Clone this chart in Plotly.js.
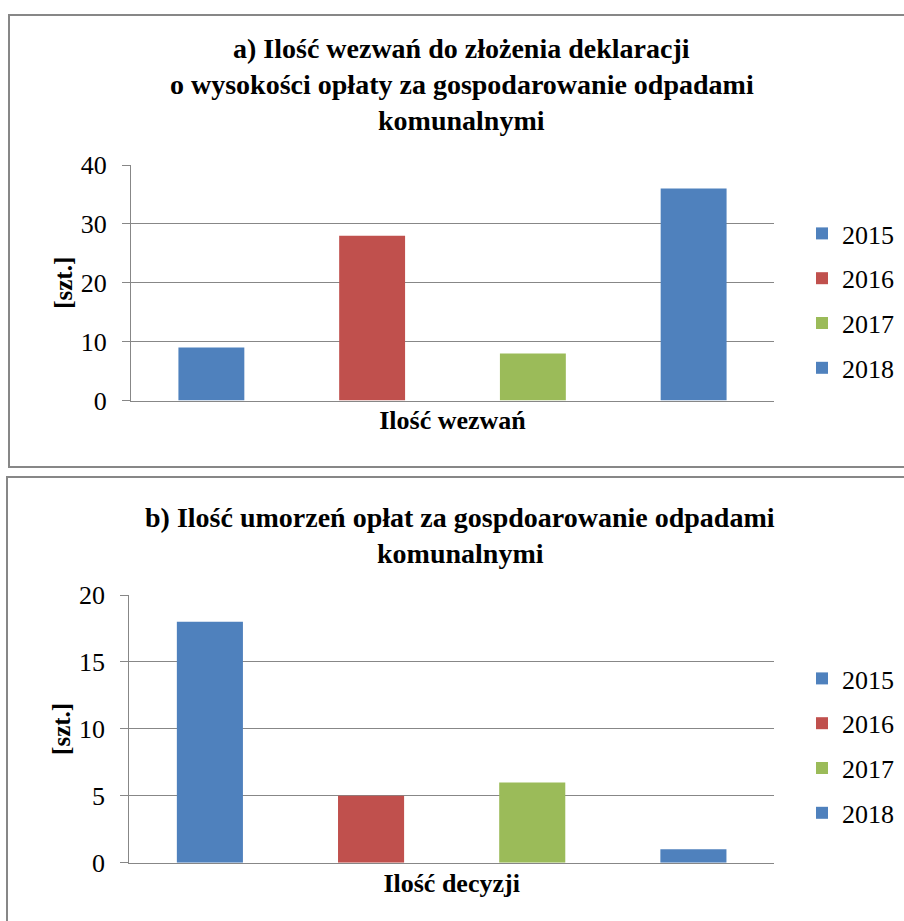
<!DOCTYPE html>
<html>
<head>
<meta charset="utf-8">
<script src="https://cdn.plot.ly/plotly-3.0.1.min.js"></script>
<style>html,body{margin:0;padding:0;background:#fff;}#chart{width:904px;height:921px;}</style>
</head>
<body>
<div id="chart"></div>
<script>
const years = ["2015", "2016", "2017", "2018"];
const colors = ["#4F81BD", "#C0504D", "#9BBB59", "#4F81BD"];
const catA = "Ilość wezwań";
const valuesA = [9, 28, 8, 36];
const catB = "Ilość decyzji";
const valuesB = [18, 5, 6, 1];
const titleA = ["a) Ilość wezwań do złożenia deklaracji", "o wysokości opłaty za gospodarowanie odpadami", "komunalnymi"];
const titleB = ["b) Ilość umorzeń opłat za gospdoarowanie odpadami", "komunalnymi"];
const yTicksA = [0, 10, 20, 30, 40];
const yTicksB = [0, 5, 10, 15, 20];

const FONT = "Liberation Serif";
const W = 904, H = 921;
const px = v => v / W;
const py = v => 1 - v / H;

const traces = [];
years.forEach((yr, i) => {
  traces.push({
    type: "bar", x: [catA], y: [valuesA[i]], name: yr,
    marker: {color: colors[i]}, xaxis: "x", yaxis: "y",
    legend: "legend", legendgroup: "a" + i, hoverinfo: "y"
  });
});
years.forEach((yr, i) => {
  traces.push({
    type: "bar", x: [catB], y: [valuesB[i]], name: yr,
    marker: {color: colors[i]}, xaxis: "x2", yaxis: "y2",
    legend: "legend2", legendgroup: "b" + i, hoverinfo: "y"
  });
});

const gridC = "#878787";
const yCommon = {
  showgrid: true, gridcolor: gridC, gridwidth: 1,
  showline: true, linecolor: gridC, linewidth: 1,
  ticks: "outside", ticklen: 8, tickcolor: gridC, tickwidth: 1,
  ticklabelstandoff: 10,
  tickfont: {family: FONT, size: 26, color: "#000"},
  zeroline: false, fixedrange: true
};
const xCommon = {
  showline: true, linecolor: gridC, linewidth: 1.5,
  showticklabels: false, ticks: "", showgrid: false, zeroline: false, fixedrange: true
};

const annotations = [];
const titleAy = [48, 84, 120];
titleA.forEach((t, i) => annotations.push({
  text: "<b>" + t + "</b>", xref: "paper", yref: "paper",
  x: px(462), y: py(titleAy[i]), xanchor: "center", yanchor: "middle",
  showarrow: false, font: {family: FONT, size: 28, color: "#000"}
}));
const titleBy = [517, 553];
titleB.forEach((t, i) => annotations.push({
  text: "<b>" + t + "</b>", xref: "paper", yref: "paper",
  x: px(460), y: py(titleBy[i]), xanchor: "center", yanchor: "middle",
  showarrow: false, font: {family: FONT, size: 28, color: "#000"}
}));

const legendCommon = {
  font: {family: FONT, size: 26, color: "#000"},
  traceorder: "grouped", tracegroupgap: 8,
  bgcolor: "rgba(0,0,0,0)", borderwidth: 0,
  xanchor: "left", yanchor: "top", itemclick: false, itemdoubleclick: false
};

const layout = {
  width: W, height: H,
  margin: {l: 0, r: 0, t: 0, b: 0},
  paper_bgcolor: "#fff", plot_bgcolor: "#fff",
  barmode: "group", bargap: 0, bargroupgap: 0.59,
  showlegend: true,
  font: {family: FONT, color: "#000"},
  xaxis: Object.assign({}, xCommon, {domain: [px(131), px(774)], anchor: "y",
    title: {text: "<b>" + catA + "</b>", standoff: 10, font: {family: FONT, size: 26, color: "#000"}}}),
  yaxis: Object.assign({}, yCommon, {domain: [py(400.5), py(165)], anchor: "x",
    range: [0, 40], tickvals: yTicksA,
    title: {text: "<b>[szt.]</b>", standoff: 1, font: {family: FONT, size: 25, color: "#000"}}}),
  xaxis2: Object.assign({}, xCommon, {domain: [px(129.3), px(774)], anchor: "y2",
    title: {text: "<b>" + catB + "</b>", standoff: 10, font: {family: FONT, size: 26, color: "#000"}}}),
  yaxis2: Object.assign({}, yCommon, {domain: [py(862.7), py(595)], anchor: "x2",
    range: [0, 20], tickvals: yTicksB,
    title: {text: "<b>[szt.]</b>", standoff: 1, font: {family: FONT, size: 25, color: "#000"}}}),
  legend: Object.assign({}, legendCommon, {x: px(802), y: py(210)}),
  legend2: Object.assign({}, legendCommon, {x: px(802), y: py(655)}),
  annotations: annotations,
  shapes: [
    {type: "rect", xref: "paper", yref: "paper", x0: px(9), x1: 1.02, y0: py(467), y1: py(15),
     line: {color: gridC, width: 2}, fillcolor: "rgba(0,0,0,0)", layer: "below"},
    {type: "rect", xref: "paper", yref: "paper", x0: px(7), x1: 1.02, y0: -0.05, y1: py(477),
     line: {color: gridC, width: 2}, fillcolor: "rgba(0,0,0,0)", layer: "below"}
  ]
};

Plotly.newPlot("chart", traces, layout, {displayModeBar: false, staticPlot: true});
</script>
</body>
</html>
